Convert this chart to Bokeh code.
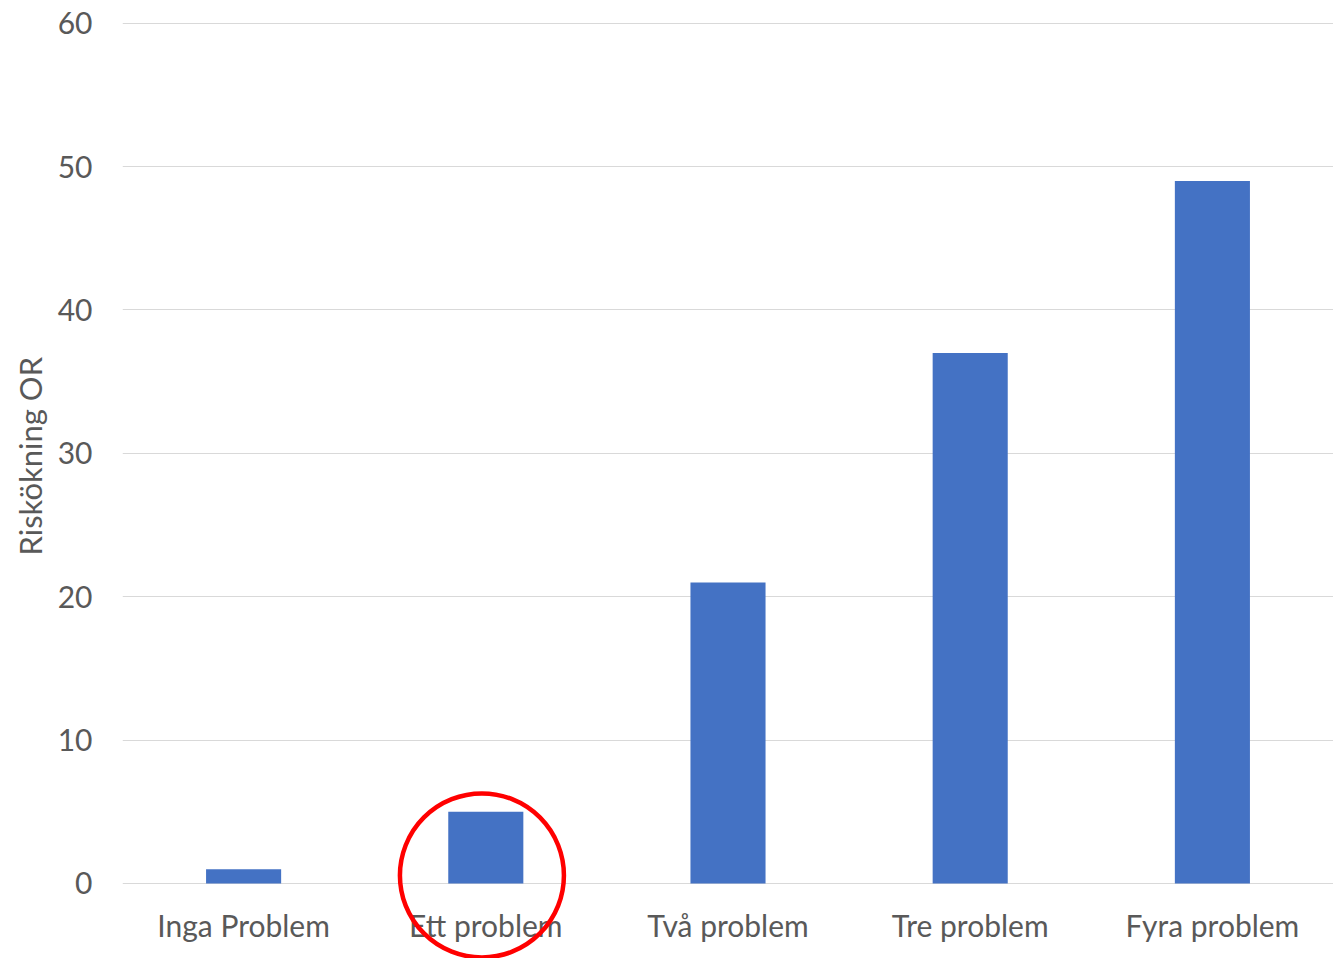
from bokeh.plotting import figure
from bokeh.models import FactorRange, Range1d, FixedTicker, Title
from bokeh.core.properties import value
from bokeh.embed import file_html
from bokeh.resources import INLINE

categories = ["Inga Problem", "Ett problem", "Två problem", "Tre problem", "Fyra problem"]
values = [1, 5, 21, 37, 49]
y_ticks = [0, 10, 20, 30, 40, 50, 60]
y_title = "Riskökning OR"
# highlight ring around "Ett problem" (x in category units, y in data units)
ring_x = [1.484]
ring_y = [0.56]

FONT = "Lato"
TXT = "#595959"

# frame extends below 0 so that the ring and category labels are inside it
px_per_unit = (883 - 23) / 60.0
y_start = -(958 - 883) / px_per_unit

p = figure(
    x_range=FactorRange(*categories, range_padding=0),
    y_range=Range1d(y_start, 60.05),
    width=1333, height=958,
    output_backend="svg", toolbar_location=None,
    min_border_left=122, min_border_right=0, min_border_top=22, min_border_bottom=0,
)
p.outline_line_color = None
p.background_fill_color = "white"
p.border_fill_color = "white"

p.vbar(x=categories, top=values, width=0.31, fill_color="#4472c4", line_color=None)

p.xgrid.grid_line_color = None
p.ygrid.grid_line_color = "#d9d9d9"
p.ygrid.grid_line_width = 1
p.yaxis.ticker = FixedTicker(ticks=y_ticks)

p.yaxis.axis_line_color = None
p.yaxis.major_tick_line_color = None
p.yaxis.minor_tick_line_color = None
p.yaxis.major_tick_out = 0
p.yaxis.major_label_standoff = 30
p.yaxis.major_label_text_font = FONT
p.yaxis.major_label_text_font_size = "30px"
p.yaxis.major_label_text_color = TXT

p.xaxis.visible = False

# y-axis title, placed beside the 0..60 value span
p.add_layout(Title(text=y_title, align="left", offset=403, standoff=12,
                   text_font=FONT, text_font_size="31px",
                   text_font_style="normal", text_color=TXT), "left")

# category labels under the zero line
label_y = [0 for _ in categories]
p.text(x=categories, y=label_y, text=categories, y_offset=42,
       text_align="center", text_baseline="middle",
       text_font=value(FONT), text_font_size=value("30px"), text_color=TXT)

# red highlight ring
p.circle(x=ring_x, y=ring_y, radius=82, radius_units="screen",
         fill_color=None, line_color="#ff0000", line_width=4.5)

open("out.html", "w").write(file_html(p, INLINE))
